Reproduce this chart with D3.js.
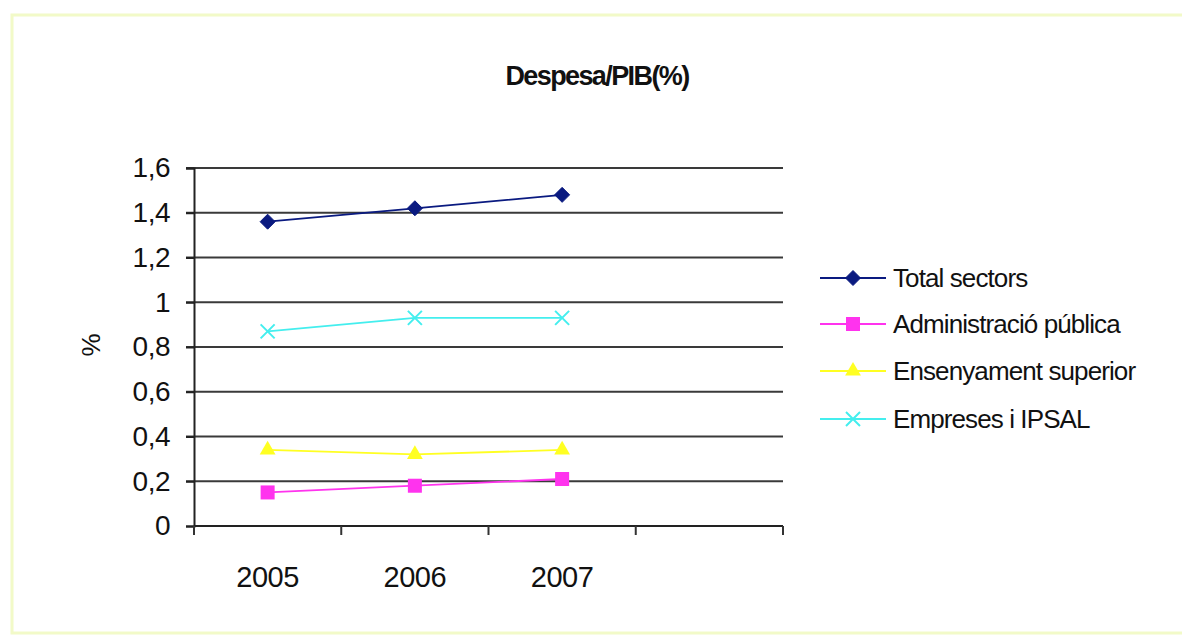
<!DOCTYPE html>
<html>
<head>
<meta charset="utf-8">
<script src="https://cdn.jsdelivr.net/npm/d3@7"></script>
<style>
  html, body { margin: 0; padding: 0; background: #fff; }
  svg { display: block; }
  text { font-family: "Liberation Sans", Arial, sans-serif; fill: #111; }
</style>
</head>
<body>
<svg id="chart" width="1182" height="642"></svg>
<script>
// Categories on the x axis (last slot is empty)
const years = ["2005", "2006", "2007", ""];
const yTicks = [0, 0.2, 0.4, 0.6, 0.8, 1, 1.2, 1.4, 1.6];

// Series values (R+D expenditure as % of GDP)
const totalSectors   = [1.36, 1.42, 1.48];
const administracio  = [0.15, 0.18, 0.21];
const ensenyament    = [0.34, 0.32, 0.34];
const empreses       = [0.87, 0.93, 0.93];

const seriesNames  = ["Total sectors", "Administració pública", "Ensenyament superior", "Empreses i IPSAL"];
const seriesValues = [totalSectors, administracio, ensenyament, empreses];
const seriesColors = ["#0a1a80", "#ff33ee", "#ffff22", "#44eeee"];
const seriesShapes = ["diamond", "square", "triangle", "cross"];

const svg = d3.select("#chart");

// Outer frame
svg.append("rect")
  .attr("x", 12).attr("y", 15).attr("width", 1180).attr("height", 618)
  .attr("fill", "none").attr("stroke", "#f2fac8").attr("stroke-width", 3);

const plot = { left: 194, right: 783, top: 168, bottom: 526 };

const x = d3.scaleBand().domain(years).range([plot.left, plot.right]);
const y = d3.scaleLinear().domain([0, 1.6]).range([plot.bottom, plot.top]);

// Horizontal gridlines
svg.append("g").selectAll("line").data(yTicks.filter(d => d > 0)).join("line")
  .attr("x1", plot.left - 8).attr("x2", plot.right)
  .attr("y1", d => y(d)).attr("y2", d => y(d))
  .attr("stroke", "#3a3a3a").attr("stroke-width", 2);

// Y axis
const yAxis = svg.append("g")
  .attr("transform", `translate(${plot.left},0)`)
  .call(d3.axisLeft(y).tickValues(yTicks).tickSize(8).tickPadding(16)
    .tickFormat(d => d3.format(".1~f")(d).replace(".", ",")));
yAxis.select(".domain").attr("stroke", "#222").attr("stroke-width", 2);
yAxis.selectAll(".tick line").attr("stroke", "#222").attr("stroke-width", 2);
yAxis.selectAll(".tick text")
  .style("font-family", "'Liberation Sans', Arial, sans-serif")
  .style("font-size", "28px").attr("letter-spacing", "-0.5").attr("fill", "#111");

// X axis with ticks at category boundaries
const xAxisG = svg.append("g").attr("transform", `translate(0,${plot.bottom})`);
xAxisG.append("line")
  .attr("x1", plot.left).attr("x2", plot.right)
  .attr("stroke", "#222").attr("stroke-width", 2);
const bounds = years.map(d => x(d)).concat([plot.right]);
xAxisG.selectAll("line.tk").data(bounds).join("line").attr("class", "tk")
  .attr("x1", d => d).attr("x2", d => d).attr("y1", 0).attr("y2", 9)
  .attr("stroke", "#333").attr("stroke-width", 2);
xAxisG.selectAll("text").data(years.slice(0, 3)).join("text")
  .attr("x", d => x(d) + x.bandwidth() / 2)
  .attr("y", 61)
  .attr("text-anchor", "middle")
  .style("font-size", "29px")
  .attr("letter-spacing", "-0.5")
  .text(d => d);

// Title
svg.append("text")
  .attr("x", 597).attr("y", 85)
  .attr("text-anchor", "middle")
  .style("font-size", "27px").style("font-weight", "bold")
  .attr("letter-spacing", "-1.6")
  .text("Despesa/PIB(%)");

// Y axis title
svg.append("text")
  .attr("transform", "translate(100,345) rotate(-90)")
  .attr("text-anchor", "middle")
  .style("font-size", "26px")
  .text("%");

// Marker drawing
function marker(g, shape, color, size) {
  if (shape === "diamond") {
    const h = size / 2 + 1.5;
    g.append("path").attr("d", `M0,${-h}L${h},0L0,${h}L${-h},0Z`)
      .attr("fill", color).attr("stroke", color);
  } else if (shape === "square") {
    g.append("rect").attr("x", -size / 2 - 1).attr("y", -size / 2 - 1)
      .attr("width", size + 2).attr("height", size + 2).attr("fill", color);
  } else if (shape === "triangle") {
    g.append("path").attr("d", d3.symbol(d3.symbolTriangle, size * 9)())
      .attr("fill", color);
  } else {
    const s = size / 2 + 1;
    g.append("path").attr("d", `M${-s},${-s}L${s},${s}M${-s},${s}L${s},${-s}`)
      .attr("stroke", color).attr("stroke-width", 2).attr("fill", "none");
  }
}

const line = d3.line()
  .x((d, i) => x(years[i]) + x.bandwidth() / 2)
  .y(d => y(d));

// Series lines and markers
seriesValues.forEach((vals, k) => {
  const g = svg.append("g");
  g.append("path").datum(vals).attr("d", line)
    .attr("fill", "none").attr("stroke", seriesColors[k]).attr("stroke-width", 1.8);
  vals.forEach((v, i) => {
    const mg = g.append("g")
      .attr("transform", `translate(${x(years[i]) + x.bandwidth() / 2},${y(v)})`);
    marker(mg, seriesShapes[k], seriesColors[k], 12);
  });
});

// Legend
const legendY = [278, 324, 371, 419];
seriesNames.forEach((name, k) => {
  const g = svg.append("g").attr("transform", `translate(820,${legendY[k]})`);
  g.append("line").attr("x1", 0).attr("x2", 66)
    .attr("stroke", seriesColors[k]).attr("stroke-width", 2);
  const mg = g.append("g").attr("transform", "translate(33,0)");
  marker(mg, seriesShapes[k], seriesColors[k], 12);
  g.append("text").attr("x", 73).attr("y", 9)
    .style("font-size", "26px")
    .attr("letter-spacing", "-0.9")
    .text(name);
});
</script>
</body>
</html>
